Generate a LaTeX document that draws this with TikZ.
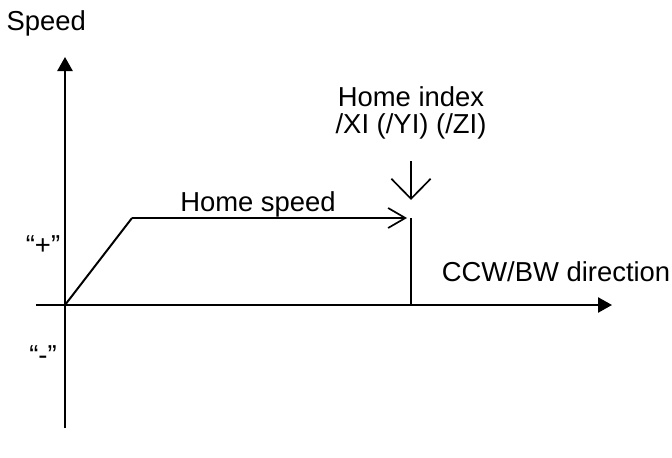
\documentclass[tikz,border=0pt]{standalone}
\usepackage{fontspec}
\setmainfont{Liberation Sans}
\usetikzlibrary{arrows.meta}

\begin{document}
\begin{tikzpicture}[font=\fontsize{19.5}{19.2}\selectfont, line width=1.4pt]
  \useasboundingbox (-1.625,-3.8) rectangle (15.175,7.625);
  \tikzstyle{AxisStyle}=[-{Triangle[length=0.35cm,width=0.38cm]}]
  \tikzstyle{OpenStyle}=[-{Straight Barb[length=0.43cm,width=0.5cm,line width=1.2pt]}]
  \tikzstyle{LabelStyle}=[inner sep=0pt]
  % axes
  \coordinate (O) at (0,0);
  \coordinate (ybot) at (0,-3.075);
  \coordinate (ytop) at (0,6.2);
  \coordinate (xleft) at (-0.725,0);
  \coordinate (xright) at (13.675,0);
  \draw[AxisStyle] (ybot) -- (ytop);
  \draw[AxisStyle] (xleft) -- (xright);
  % speed profile
  \coordinate (ramp) at (1.675,2.175);
  \coordinate (hs) at (8.55,2.175);
  \coordinate (idxtop) at (8.65,2.175);
  \coordinate (idxbot) at (8.65,0);
  \draw (O) -- (ramp);
  \draw[OpenStyle] (ramp) -- (hs);
  \draw (idxtop) -- (idxbot);
  % home index signal
  \coordinate (sigtop) at (8.65,3.6);
  \coordinate (sigbot) at (8.65,2.625);
  \draw[-{Straight Barb[length=0.5cm,width=0.98cm,line width=1.2pt]}] (sigtop) -- (sigbot);
  % labels
  \node[LabelStyle] (speed) at (-0.47,7.05) {Speed};
  \node[LabelStyle] (plus) at (-0.55,1.5) {“+”};
  \node[LabelStyle] (minus) at (-0.55,-1.25) {“-”};
  \node[LabelStyle] (homespeed) at (4.825,2.525) {Home speed};
  \node[LabelStyle] (dir) at (12.275,0.825) {CCW/BW direction};
  \node[LabelStyle, align=center] (index) at (8.65,4.79) {Home index\\/XI (/YI) (/ZI)};
\end{tikzpicture}
\end{document}
